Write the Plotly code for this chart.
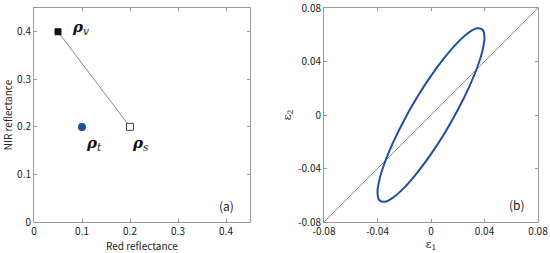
import plotly.graph_objects as go

# Panel (a) data
seg_red = [0.05, 0.2]
seg_nir = [0.4, 0.2]
rho_v = (0.05, 0.4)
rho_s = (0.2, 0.2)
rho_t = (0.1, 0.2)

# Panel (b) ellipse points
ell_x = [0.0400, 0.0386, 0.0346, 0.0283, 0.0200, 0.0104, 0.0, -0.0104, -0.0200, -0.0283, -0.0346, -0.0386,
         -0.0400, -0.0386, -0.0346, -0.0283, -0.0200, -0.0104, 0.0, 0.0104, 0.0200, 0.0283, 0.0346, 0.0386, 0.0400]
ell_y = [0.0581, 0.0637, 0.0649, 0.0617, 0.0543, 0.0432, 0.0292, 0.0132, -0.0037, -0.0205, -0.0357, -0.0485,
         -0.0581, -0.0637, -0.0649, -0.0617, -0.0543, -0.0432, -0.0292, -0.0132, 0.0037, 0.0205, 0.0357, 0.0485, 0.0581]
diag = [-0.08, 0.08]

FONT = "Noto Sans CJK JP"
fig = go.Figure()

fig.add_trace(go.Scatter(x=seg_red, y=seg_nir, mode="lines", line=dict(color="#8a8a8a", width=1),
                         xaxis="x", yaxis="y", showlegend=False))
fig.add_trace(go.Scatter(x=[rho_v[0]], y=[rho_v[1]], mode="markers",
                         marker=dict(symbol="square", size=6, color="#111111", line=dict(color="#111111", width=1)),
                         xaxis="x", yaxis="y", showlegend=False))
fig.add_trace(go.Scatter(x=[rho_s[0]], y=[rho_s[1]], mode="markers",
                         marker=dict(symbol="square", size=7, color="white", line=dict(color="#444444", width=1)),
                         xaxis="x", yaxis="y", showlegend=False))
fig.add_trace(go.Scatter(x=[rho_t[0]], y=[rho_t[1]], mode="markers",
                         marker=dict(symbol="circle", size=8, color="#1f4f9c"),
                         xaxis="x", yaxis="y", showlegend=False))

fig.add_trace(go.Scatter(x=diag, y=diag, mode="lines", line=dict(color="#8a8a8a", width=1),
                         xaxis="x2", yaxis="y2", showlegend=False))
fig.add_trace(go.Scatter(x=ell_x, y=ell_y, mode="lines", line=dict(color="#1f4f9c", width=2, shape="spline"),
                         xaxis="x2", yaxis="y2", showlegend=False))

ax_common = dict(showgrid=False, zeroline=False, showline=True, linecolor="#9a9a9a", linewidth=1,
                 mirror="ticks", ticks="inside", ticklen=3, tickcolor="#9a9a9a", automargin=False,
                 ticklabeloverflow="allow",
                 tickfont=dict(family=FONT, size=10, color="#222"))

fig.update_layout(
    width=550, height=253, margin=dict(l=0, r=0, t=8, b=31, autoexpand=False),
    paper_bgcolor="white", plot_bgcolor="white",
    xaxis=dict(domain=[34/550, 250/550], range=[0, 0.45], tickvals=[0, 0.1, 0.2, 0.3, 0.4],
               ticktext=["0", "0.1", "0.2", "0.3", "0.4"], anchor="y",
               title=dict(text="Red reflectance", font=dict(family=FONT, size=10, color="#222"), standoff=4),
               **ax_common),
    yaxis=dict(domain=[0, 1], range=[0, 0.45], tickvals=[0, 0.1, 0.2, 0.3, 0.4],
               ticktext=["0", "0.1", "0.2", "0.3", "0.4"], anchor="x",
               title=dict(text="NIR reflectance", font=dict(family=FONT, size=10, color="#222"), standoff=6),
               **ax_common),
    xaxis2=dict(domain=[324/550, 538/550], range=[-0.08, 0.08], tickvals=[-0.08, -0.04, 0, 0.04, 0.08],
                ticktext=["-0.08", "-0.04", "0", "0.04", "0.08"], anchor="y2",
                title=dict(text="ε<sub>1</sub>", font=dict(family="DejaVu Serif", size=11, color="#222"), standoff=2),
                **ax_common),
    yaxis2=dict(domain=[0, 1], range=[-0.08, 0.08], tickvals=[-0.08, -0.04, 0, 0.04, 0.08],
                ticktext=["-0.08", "-0.04", "0", "0.04", "0.08"], anchor="x2",
                title=dict(text="ε<sub>2</sub>", font=dict(family="DejaVu Serif", size=11, color="#222"), standoff=4),
                **ax_common),
)

ann_font = dict(family="DejaVu Serif", size=15, color="#111")
fig.add_annotation(x=0.075, y=0.41, xref="x", yref="y", text="<b><i>ρ</i></b><sub><i>v</i></sub>",
                   showarrow=False, font=ann_font, xanchor="left")
fig.add_annotation(x=0.105, y=0.165, xref="x", yref="y", text="<b><i>ρ</i></b><sub><i>t</i></sub>",
                   showarrow=False, font=ann_font, xanchor="left")
fig.add_annotation(x=0.2, y=0.165, xref="x", yref="y", text="<b><i>ρ</i></b><sub><i>s</i></sub>",
                   showarrow=False, font=ann_font, xanchor="left")
fig.add_annotation(x=0.4, y=0.035, xref="x", yref="y", text="(a)", showarrow=False,
                   font=dict(family=FONT, size=12, color="#222"))
fig.add_annotation(x=0.064, y=-0.067, xref="x2", yref="y2", text="(b)", showarrow=False,
                   font=dict(family=FONT, size=12, color="#222"))

fig.write_html("out.html", config={"displayModeBar": False},
               post_script="document.body.style.margin='0';document.body.style.overflow='hidden';")
